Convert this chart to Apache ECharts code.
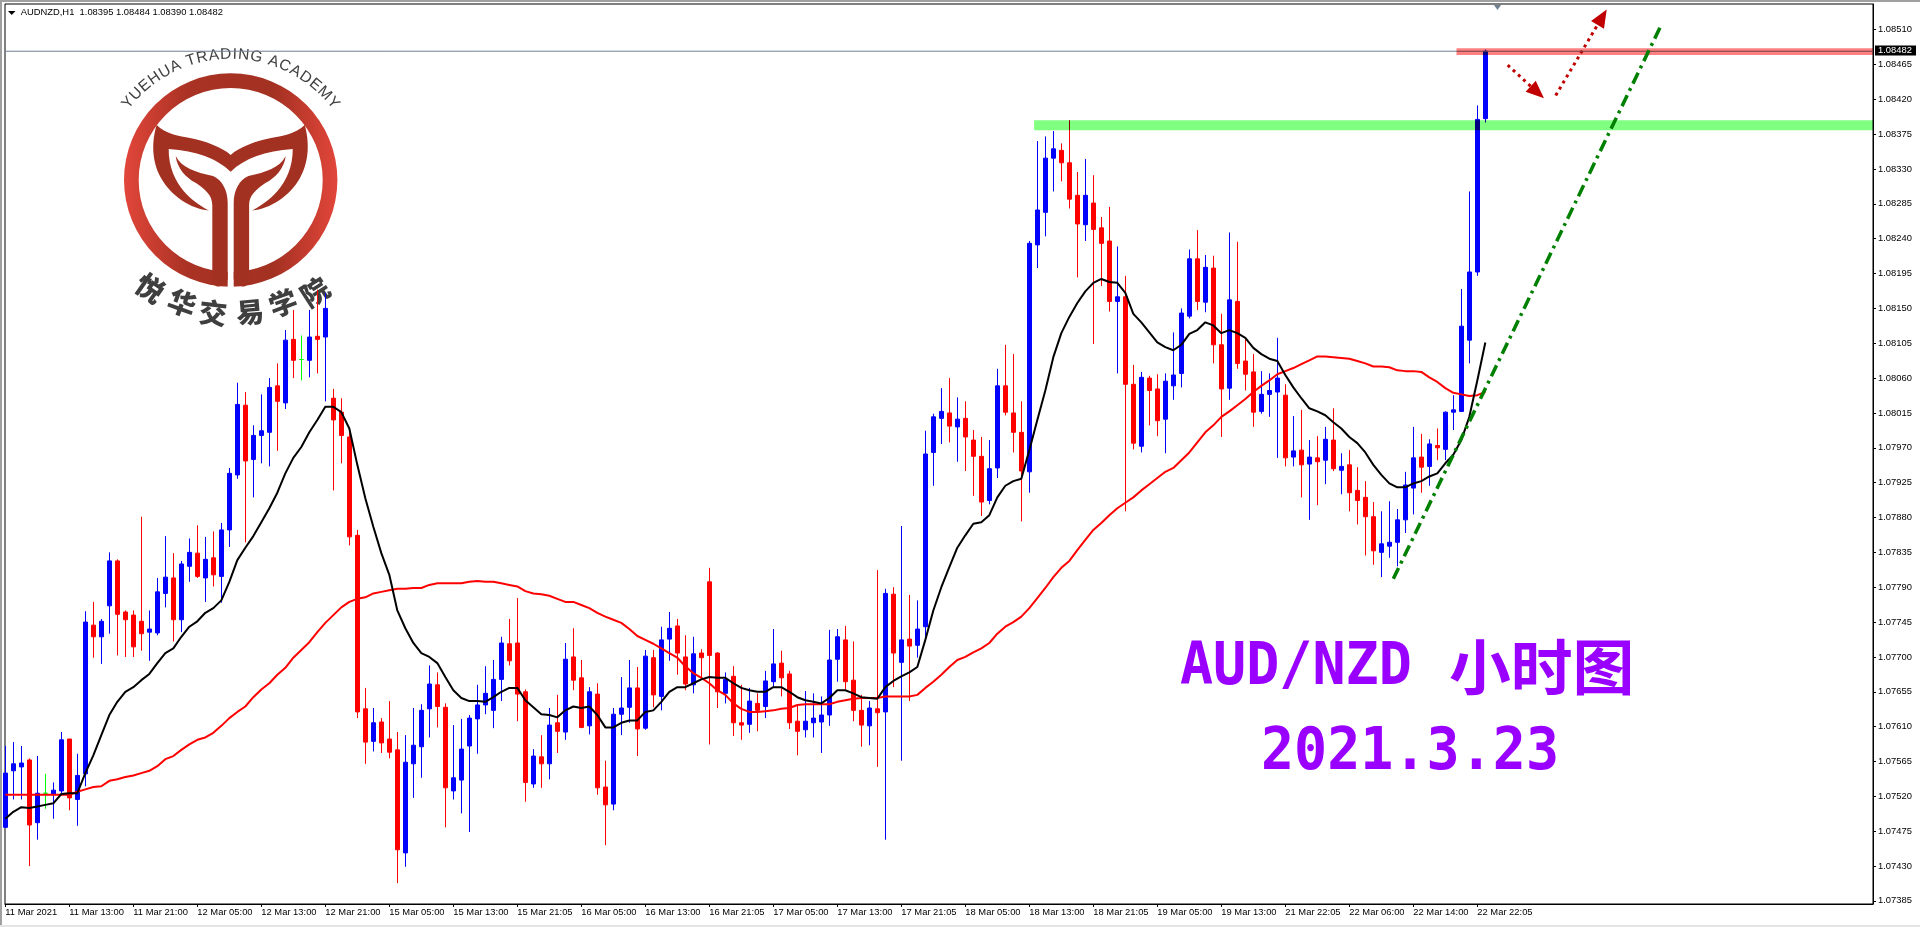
<!DOCTYPE html>
<html><head><meta charset="utf-8"><style>html,body{margin:0;padding:0;background:#fff}#c{width:1920px;height:927px}</style>
<script src="https://cdn.jsdelivr.net/npm/echarts@6/dist/echarts.min.js"></script></head>
<body><div id="c"></div><script>
// prices in 1/100000
const opens=[107480,107553,107558,107567,107486,107524,107523,107527,107594,107516,
107549,107741,107726,107766,107824,107758,107754,107746,107732,107731,
107782,107802,107748,107817,107834,107802,107828,107804,107864,107935,
108025,107955,107986,107990,108050,108028,108110,108084,108083,108114,
108113,108034,108016,107984,107857,107633,107591,107616,107594,107580,
107447,107562,107584,107633,107664,107635,107527,107541,107585,107620,
107638,107631,107671,107717,107718,107655,107536,107571,107562,107615,
107603,107700,107673,107611,107652,107532,107510,107626,107635,107660,
107608,107699,107649,107723,107740,107700,107664,107705,107797,107705,
107653,107675,107615,107613,107640,107636,107668,107692,107678,107617,
107606,107615,107616,107625,107697,107722,107670,107631,107611,107633,
107629,107781,107693,107723,107715,107739,107964,108008,108015,107997,
108008,107980,107959,107902,107944,108050,108015,107990,107939,108232,
108274,108344,108354,108338,108296,108258,108286,108254,108237,108159,
108165,108052,107972,108060,108046,108007,108050,108066,108140,108214,
108158,108202,108103,108047,108159,108082,108068,108017,108039,108042,
108038,107958,107967,107949,107957,107954,107980,107941,107948,107915,
107906,107881,107835,107843,107848,107877,107918,107958,107946,107973,
107968,108016,108017,108109,108197,108395];
const closes=[107550,107562,107563,107483,107524,107524,107528,107593,107518,107547,
107745,107726,107746,107824,107755,107748,107713,107730,107736,107784,
107803,107748,107820,107835,107804,107826,107806,107864,107937,108026,
107953,107986,107992,108048,108030,108109,108083,108084,108113,108110,
108150,108006,107986,107855,107629,107590,107615,107589,107577,107451,
107564,107586,107631,107665,107636,107531,107544,107581,107621,107638,
107653,107671,107718,107695,107652,107538,107572,107562,107612,107604,
107697,107670,107609,107655,107531,107509,107626,107634,107660,107607,
107701,107651,107722,107737,107705,107665,107704,107699,107702,107655,
107671,107615,107612,107643,107631,107669,107691,107673,107615,107604,
107617,107621,107625,107696,107726,107668,107631,107612,107634,107628,
107782,107705,107722,107714,107736,107962,108010,108017,107998,108007,
107984,107959,107900,107943,108050,108016,107990,107940,108234,108277,
108344,108356,108338,108291,108259,108296,108252,108234,108159,108165,
108052,107976,108061,108044,108005,108056,108064,108144,108214,108159,
108203,108103,108046,108161,108079,108065,108016,108039,108044,108060,
107957,107966,107948,107958,107952,107981,107943,107946,107912,107902,
107881,107837,107846,107848,107877,107922,107957,107945,107975,107970,
108016,108019,108127,108197,108394,108482];
const highs=[107585,107590,107585,107569,107572,107549,107538,107603,107594,107575,
107759,107771,107749,107835,107826,107760,107760,107881,107760,107802,
107856,107834,107824,107853,107870,107855,107862,107873,107944,108054,
108042,107999,108039,108060,108079,108122,108148,108115,108148,108174,
108170,108046,108034,107990,107864,107660,107634,107621,107643,107603,
107599,107634,107639,107689,107680,107640,107612,107620,107625,107664,
107688,107696,107726,107749,107776,107658,107581,107599,107634,107651,
107718,107737,107696,107661,107666,107566,107634,107674,107696,107687,
107709,107709,107739,107758,107749,107728,107726,107710,107815,107706,
107680,107688,107664,107660,107653,107682,107736,107708,107682,107638,
107656,107653,107649,107735,107736,107740,107720,107651,107643,107812,
107788,107790,107869,107780,107773,107992,108014,108047,108060,108035,
108030,107993,107984,107980,108072,108103,108091,108030,108237,108366,
108372,108379,108363,108393,108326,108343,108322,108268,108281,108230,
108192,108077,108068,108063,108065,108066,108119,108150,108226,108251,
108219,108218,108143,108248,108236,108110,108091,108069,108066,108112,
108052,108011,108019,107980,107985,107997,108021,107963,107967,107945,
107927,107900,107888,107901,107891,107939,107997,107988,107981,107995,
108017,108038,108175,108301,108412,108484];
const lows=[107479,107516,107516,107430,107464,107504,107491,107522,107502,107482,
107533,107699,107691,107730,107702,107700,107700,107708,107695,107728,
107764,107720,107732,107797,107802,107771,107791,107770,107842,107930,
107848,107906,107950,107946,107966,108020,108060,108057,108061,108066,
108030,107915,107950,107844,107621,107562,107578,107576,107569,107408,
107429,107518,107544,107596,107609,107480,107516,107498,107474,107575,
107626,107608,107643,107689,107617,107513,107531,107531,107542,107576,
107593,107657,107608,107600,107522,107457,107502,107599,107615,107572,
107606,107635,107631,107695,107677,107657,107653,107674,107587,107634,
107640,107598,107593,107602,107604,107621,107661,107649,107607,107573,
107596,107596,107576,107611,107668,107658,107617,107584,107586,107558,
107464,107661,107566,107643,107699,107726,107921,107975,107977,107952,
107940,107908,107882,107897,107931,108012,107964,107875,107912,108202,
108243,108301,108314,108279,108190,108237,108104,108179,108146,108066,
107888,107968,107964,107999,107985,107963,108032,108048,108137,108148,
108145,108079,107984,108032,108072,108044,107997,108014,108010,107957,
107946,107946,107906,107877,107896,107923,107940,107910,107888,107871,
107831,107819,107803,107828,107817,107860,107884,107912,107921,107954,
107954,107993,108017,108079,108192,108390];
const maFast=[107491,107500,107506,107505,107507,107509,107511,107523,107524,107524,
107550,107573,107599,107625,107642,107655,107661,107670,107678,107692,
107705,107711,107726,107739,107746,107757,107763,107773,107797,107825,
107841,107856,107874,107892,107912,107937,107957,107971,107990,108006,
108023,108023,108016,107995,107948,107905,107868,107834,107806,107760,
107737,107718,107705,107700,107692,107674,107657,107647,107643,107643,
107642,107648,107655,107660,107660,107644,107635,107626,107625,107622,
107631,107636,107634,107636,107625,107609,107609,107615,107618,107618,
107629,107631,107642,107655,107661,107661,107666,107671,107674,107673,
107673,107666,107660,107657,107655,107655,107661,107661,107655,107648,
107644,107642,107640,107647,107657,107657,107653,107648,107647,107646,
107661,107669,107675,107680,107687,107722,107760,107790,107816,107841,
107857,107872,107874,107883,107906,107921,107927,107930,107967,108006,
108044,108087,108118,108139,108157,108172,108183,108188,108184,108183,
108170,108143,108132,108119,108106,108100,108096,108103,108117,108122,
108132,108128,108118,108122,108118,108112,108099,108091,108085,108082,
108064,108048,108034,108021,108017,108012,108003,107995,107984,107976,
107964,107948,107935,107924,107919,107919,107924,107927,107933,107937,
107950,107961,107980,108010,108057,108106];
const maSlow=[107522,107522,107522,107522,107522,107522,107522,107522,107522,107526,
107529,107532,107533,107540,107542,107545,107547,107550,107553,107559,
107568,107572,107580,107587,107593,107596,107602,107611,107621,107629,
107636,107648,107658,107666,107677,107686,107699,107709,107719,107732,
107744,107754,107764,107771,107775,107777,107782,107784,107786,107788,
107788,107789,107789,107793,107795,107795,107795,107795,107797,107798,
107797,107797,107795,107793,107791,107785,107782,107781,107779,107775,
107771,107771,107767,107763,107757,107752,107748,107744,107736,107727,
107722,107717,107711,107705,107699,107688,107679,107673,107666,107657,
107651,107640,107633,107629,107629,107630,107631,107633,107634,107638,
107639,107639,107639,107639,107642,107644,107646,107647,107647,107647,
107649,107649,107649,107649,107651,107660,107668,107677,107687,107696,
107700,107706,107711,107718,107730,107739,107745,107752,107763,107776,
107789,107803,107815,107824,107838,107851,107864,107873,107883,107892,
107899,107906,107915,107923,107931,107939,107944,107954,107964,107977,
107990,107999,108010,108017,108025,108033,108042,108050,108057,108065,
108069,108073,108078,108083,108088,108088,108087,108086,108085,108082,
108079,108075,108075,108074,108070,108069,108069,108068,108061,108055,
108047,108041,108039,108037,108038,108042];
const dojiBars=[5,37];
const xTickLabels=['11 Mar 2021','11 Mar 13:00','11 Mar 21:00','12 Mar 05:00','12 Mar 13:00','12 Mar 21:00','15 Mar 05:00','15 Mar 13:00','15 Mar 21:05','16 Mar 05:00','16 Mar 13:00','16 Mar 21:05','17 Mar 05:00','17 Mar 13:00','17 Mar 21:05','18 Mar 05:00','18 Mar 13:00','18 Mar 21:05','19 Mar 05:00','19 Mar 13:00','21 Mar 22:05','22 Mar 06:00','22 Mar 14:00','22 Mar 22:05'];
const yTickLabels=['1.07385','1.07430','1.07475','1.07520','1.07565','1.07610','1.07655','1.07700','1.07745','1.07790','1.07835','1.07880','1.07925','1.07970','1.08015','1.08060','1.08105','1.08150','1.08195','1.08240','1.08285','1.08330','1.08375','1.08420','1.08465','1.08510'];
const bands=[[128.6,1.08393,1.08380,'#80ff80'],[181.4,1.08486,1.08477,'#ff8080']];
const trendLine=[[173.5,1.07801],[207,1.08516]];
const arrows=[[[187.8,1.08464],[191.5,1.08429]],[[193.8,1.08425],[199.6,1.08526]]];
const lastPrice=1.08482;
const titleText='AUDNZD,H1  1.08395 1.08484 1.08390 1.08482';

const XMIN=-0.04,XMAX=233.46,YMIN=1.07381,YMAX=1.08543;
const px=v=>v/1e5;
const candleData=opens.map((o,i)=>{
  const item={value:[i,px(o),px(closes[i]),px(lows[i]),px(highs[i])]};
  if(dojiBars.includes(i)) item.itemStyle={color:'#00ff00',color0:'#00ff00',borderColor:'#00ff00',borderColor0:'#00ff00'};
  return item;});
const font='Liberation Sans',fs=9.4;
const chart=echarts.init(document.getElementById('c'),null,{renderer:'canvas',width:1920,height:927});

// logo shapes, drawn with a custom series so that path data is available
const ringFill={type:'linear',x:124,y:0,x2:337.4,y2:0,global:true,colorStops:[{offset:0,color:'#e2463a'},{offset:.3,color:'#a93224'},{offset:.7,color:'#a33122'},{offset:1,color:'#e2463a'}]};
const dark='#a33122';
const logoPaths=[
 ['M124 180A106.7 106.7 0 1 1 337.4 180A106.7 106.7 0 1 1 124 180Z M138.7 180A92 92 0 1 0 322.7 180A92 92 0 1 0 138.7 180Z',ringFill],
 ['M227.7 172L233.7 172L233.7 290L227.7 290Z','#ffffff'],
 ['M156.7 125C165 134 180 136 190 138C205 141 222 147 230.7 155C239 147 256 141 271 138C281 136 296 134 304.7 125C309 140 310 160 300 178C290 196 270 209 252 210.5C265 204 293 186 292.7 149C265 151 245 158 230.7 171.7C216 158 197 151 168.7 149C168.4 186 196 204 209 210.5C191 209 171 196 161 178C151 160 152 140 156.7 125Z',dark],
 ['M175.7 156C182 168 195 172 213 176C222 180 227.7 190 227.7 203L227.7 278C227.7 284 222 286.5 217 286.5L212.3 284L212.3 205C212 195 206 190 196 183C186 178 177 168 175.7 156Z',dark],
 ['M285.7 156C279.4 168 266.4 172 248.4 176C239.4 180 233.7 190 233.7 203L233.7 278C233.7 284 239.4 286.5 244.4 286.5L249.1 284L249.1 205C249.4 195 255.4 190 265.4 183C275.4 178 284.4 168 285.7 156Z',dark]
];
const g=[];
(function(){
  const s='YUEHUA TRADING ACADEMY',f='15.5px "Liberation Sans"',ctx=document.createElement('canvas').getContext('2d');
  ctx.font=f;
  const w=[...s].map(c=>ctx.measureText(c).width),n=s.length;
  const rho=133,cy=187.5,cx=230.7,arc=2*0.88*rho;
  const inner=w.reduce((a,b)=>a+b,0)-w[0]/2-w[n-1]/2,extra=(arc-inner)/(n-1);
  let pos=-arc/2;
  [...s].forEach((c,i)=>{
    const th=pos/rho;
    if(i<n-1) pos+=w[i]/2+w[i+1]/2+extra;
    g.push({type:'text',z:0,silent:true,x:cx+rho*Math.sin(th),y:cy-rho*Math.cos(th),rotation:-th,style:{text:c,font:f,fill:'#404040',align:'center',verticalAlign:'middle'}});
  });
})();
[['悦',150,288,35],['华',182,303,20],['交',213,313,7],['易',250,312,-5],['学',283,303,-20],['院',315,292,-33]].forEach(([c,x,y,r])=>
  g.push({type:'text',z:0,silent:true,x,y,rotation:-r*Math.PI/180,style:{text:c,font:'900 28px "Noto Sans CJK SC"',fill:'#3f3f3f',align:'center',verticalAlign:'middle'}}));
const purple='#9900ff';
g.push({type:'text',z:20,silent:true,x:1180,y:669,scaleY:1.06,style:{text:'AUD/NZD',font:'bold 55px "DejaVu Sans Mono"',fill:purple,align:'left',verticalAlign:'middle'}});
g.push({type:'text',z:20,silent:true,x:1449,y:667,scaleX:1.03,style:{text:'小时图',font:'bold 60px "Noto Sans CJK SC"',fill:purple,align:'left',verticalAlign:'middle'}});
g.push({type:'text',z:20,silent:true,x:1261,y:754,scaleY:1.06,style:{text:'2021.3.23',font:'bold 55px "DejaVu Sans Mono"',fill:purple,align:'left',verticalAlign:'middle'}});
g.push({type:'text',z:20,silent:true,x:20.7,y:12.5,style:{text:titleText,font:fs+'px "Liberation Sans"',fill:'#000',align:'left',verticalAlign:'middle'}});
g.push({type:'polygon',z:20,silent:true,shape:{points:[[8,11],[15.5,11],[11.7,15]]},style:{fill:'#000'}});
g.push({type:'polygon',z:20,silent:true,shape:{points:[[1494,5],[1501,5],[1497.5,10]]},style:{fill:'#708090'}});
g.push({type:'rect',z:20,silent:true,shape:{x:0,y:0,width:1920,height:2},style:{fill:'#a0a0a0'}});
g.push({type:'rect',z:20,silent:true,shape:{x:0,y:0,width:2,height:925},style:{fill:'#a0a0a0'}});
g.push({type:'rect',z:20,silent:true,shape:{x:0,y:925,width:1920,height:2},style:{fill:'#e4e4e4'}});
g.push({type:'rect',z:20,silent:true,shape:{x:1875,y:45.5,width:41,height:10},style:{fill:'#000'}});
g.push({type:'text',z:21,silent:true,x:1878,y:50.5,style:{text:lastPrice.toFixed(5),font:fs+'px "Liberation Sans"',fill:'#fff',align:'left',verticalAlign:'middle'}});

chart.setOption({
  animation:false,backgroundColor:'#fff',
  grid:{left:5,right:47,top:4,bottom:23,show:true,borderColor:'#000',borderWidth:1,backgroundColor:'transparent'},
  xAxis:{type:'value',min:XMIN,max:XMAX,splitLine:{show:false},
    axisLine:{onZero:false,lineStyle:{color:'#000',width:1}},
    axisTick:{show:true,length:3,lineStyle:{color:'#000'},customValues:xTickLabels.map((_,k)=>k*8)},
    axisLabel:{customValues:xTickLabels.map((_,k)=>k*8),formatter:v=>xTickLabels[Math.round(v/8)],align:'left',margin:4,color:'#000',fontSize:fs,fontFamily:font}},
  yAxis:{type:'value',position:'right',min:YMIN,max:YMAX,scale:true,splitLine:{show:false},
    axisLine:{show:true,onZero:false,lineStyle:{color:'#000',width:1}},
    axisTick:{show:true,length:3,lineStyle:{color:'#000'},customValues:yTickLabels.map(Number)},
    axisLabel:{customValues:yTickLabels.map(Number),formatter:v=>v.toFixed(5),margin:5,color:'#000',fontSize:fs,fontFamily:font}},
  graphic:{elements:g},
  series:[
    {type:'custom',name:'Logo',z:1,silent:true,clip:false,data:[[0,YMIN]],encode:{x:0,y:1},
     renderItem:()=>({type:'group',children:logoPaths.map(([d,fill])=>({type:'path',
        shape:{pathData:'M0 0L0 0 '+d+' M1920 927L1920 927',layout:'cover',x:0,y:0,width:1920,height:927},style:{fill}}))})},
    {type:'candlestick',name:'AUDNZD',barWidth:4,z:3,encode:{x:0,y:[1,2,3,4]},
     itemStyle:{color:'#0000ff',color0:'#ff0000',borderColor:'#0000ff',borderColor0:'#ff0000',borderWidth:1},
     data:candleData,silent:true},
    {type:'line',name:'MA slow',z:4,showSymbol:false,symbol:'none',silent:true,lineStyle:{color:'#ff0000',width:2},data:maSlow.map((v,i)=>[i,px(v)])},
    {type:'line',name:'MA fast',z:5,showSymbol:false,symbol:'none',silent:true,lineStyle:{color:'#000000',width:2},data:maFast.map((v,i)=>[i,px(v)])},
    {type:'line',name:'Last',z:6,showSymbol:false,symbol:'none',silent:true,lineStyle:{color:'#708090',width:1},data:[[XMIN,lastPrice],[XMAX,lastPrice]]},
    {type:'custom',name:'Zones',z:7,silent:true,clip:true,blendMode:'multiply',data:bands,encode:{x:0,y:[1,2]},
     renderItem:(p,api)=>{
       const b=bands[p.dataIndex];
       const a=api.coord([b[0],b[1]]),c=api.coord([XMAX,b[2]]);
       return {type:'rect',shape:{x:a[0],y:a[1],width:c[0]-a[0],height:c[1]-a[1]},style:{fill:b[3]}};
     }},
    {type:'line',name:'Trend',z:8,showSymbol:false,symbol:'none',silent:true,lineStyle:{color:'#008000',width:3.5,type:[12,5,3,5]},data:trendLine},
    {type:'line',name:'Arrows',z:9,showSymbol:false,symbol:'none',silent:true,data:[],
     markLine:{silent:true,animation:false,symbol:['none','triangle'],symbolSize:[15,18],label:{show:false},
       lineStyle:{color:'#c00000',width:3,type:[3,4]},
       data:arrows.map(a=>[{coord:a[0]},{coord:a[1]}])}}
  ]
});
</script></body></html>
